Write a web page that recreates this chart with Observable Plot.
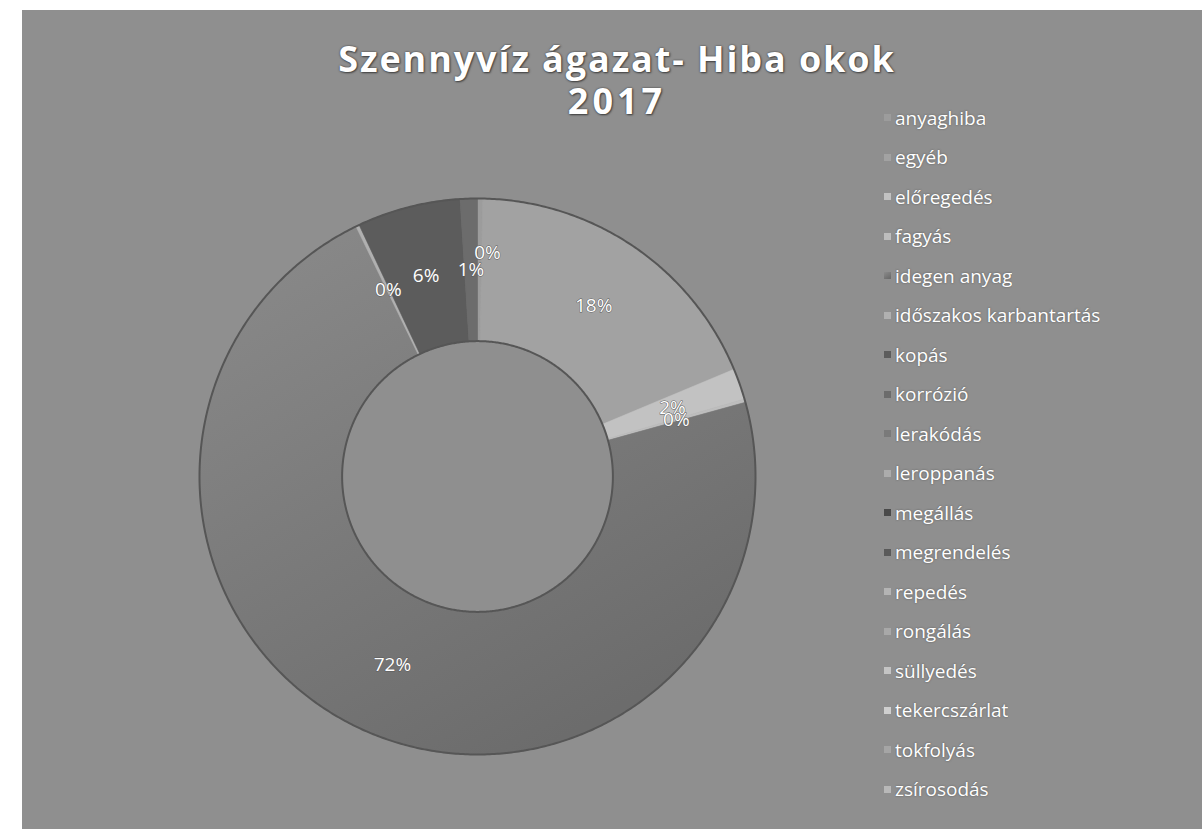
<!DOCTYPE html>
<html>
<head>
<meta charset="utf-8">
<script src="https://cdn.jsdelivr.net/npm/d3@7"></script>
<script src="https://cdn.jsdelivr.net/npm/@observablehq/plot@0.6"></script>
<style>
  html, body { margin: 0; padding: 0; background: #ffffff; }
  #panel { position: absolute; left: 22px; top: 10px; width: 1180px; height: 819px; background: #8f8f8f; overflow: hidden; font-family: "Open Sans", sans-serif; }
  #chart { position: absolute; left: 0; top: 0; }
  #title { position: absolute; left: 0; width: 1190px; top: 28px; text-align: center; color: #ffffff; font-family: "Open Sans", sans-serif; font-weight: 700; font-size: 36px; line-height: 42px; letter-spacing: 1.9px; text-shadow: 0 0 2px #3a3a3a, 1px 1px 2px #444; }
  #title .yr { letter-spacing: 4px; }
  #legend { position: absolute; left: 862px; top: 88px; }
  #legend .lg-swatches { font-family: "Open Sans", sans-serif; font-size: 19px; color: #ffffff; margin: 0; text-shadow: 0 0 2px #555; }
  #legend .lg-swatch { height: 39.5px; padding: 0; display: flex; align-items: center; }
  #legend .lg-swatch > svg { margin-right: 4px; }
</style>
</head>
<body>
<svg width="0" height="0" style="position:absolute">
  <defs>
    <linearGradient id="bigGrad" x1="0" y1="0" x2="0.6" y2="1">
      <stop offset="0" stop-color="#8b8b8b"/>
      <stop offset="1" stop-color="#6c6c6c"/>
    </linearGradient>
  </defs>
</svg>
<div id="panel">
  <div id="chart"></div>
  <div id="title">Szennyvíz ágazat- Hiba okok<br><span class="yr">2017</span></div>
  <div id="legend"></div>
</div>
<script>
// ---- data ----
const categories = ["anyaghiba", "egyéb", "előregedés", "fagyás", "idegen anyag", "időszakos karbantartás", "kopás", "korrózió", "lerakódás", "leroppanás", "megállás", "megrendelés", "repedés", "rongálás", "süllyedés", "tekercszárlat", "tokfolyás", "zsírosodás"];
const shares = [0.3, 18.4, 1.8, 0.2, 72.1, 0.2, 6.0, 1.0, null, null, null, null, null, null, null, null, null, null];
const colors = ["#9c9c9c", "#a2a2a2", "#c2c2c2", "#bdbdbd", "url(#bigGrad)", "#b0b0b0", "#5c5c5c", "#6c6c6c", "#7a7a7a", "#acacac", "#4a4a4a", "#5a5a5a", "#b4b4b4", "#a8a8a8", "#c4c4c4", "#cfcfcf", "#a5a5a5", "#b8b8b8"];

const innerRatio = 0.487;

const rows = categories.map((name, i) => ({name, share: shares[i]})).filter(d => d.share != null);
const arcs = d3.pie().sort(null).value(d => d.share)(rows);

const pt = (a, r) => ({x: r * Math.sin(a), y: r * Math.cos(a)});
const step = Math.PI / 360;

const slicePts = [];
for (const a of arcs) {
  const n = Math.max(2, Math.ceil((a.endAngle - a.startAngle) / step));
  for (let k = 0; k <= n; k++) {
    const t = a.startAngle + (a.endAngle - a.startAngle) * k / n;
    slicePts.push({name: a.data.name, ...pt(t, 1)});
  }
  for (let k = n; k >= 0; k--) {
    const t = a.startAngle + (a.endAngle - a.startAngle) * k / n;
    slicePts.push({name: a.data.name, ...pt(t, innerRatio)});
  }
  slicePts.push({name: a.data.name, ...pt(a.startAngle, 1)});
}

const ringPts = [];
for (const [ring, r] of [["outer", 1], ["inner", innerRatio]]) {
  for (let k = 0; k <= 720; k++) ringPts.push({ring, ...pt(k * step, r)});
}

const fmt = d3.format(".0f");
const labels = arcs.map(a => ({
  name: a.data.name,
  text: fmt(a.data.share) + "%",
  ...pt((a.startAngle + a.endAngle) / 2, (1 + innerRatio) / 2)
}));

const colorScale = {type: "ordinal", domain: categories, range: colors};
const labelStyle = {fill: "#ffffff", stroke: "#5a5a5a", strokeWidth: 1, paintOrder: "stroke", fontSize: 19, fontFamily: "Open Sans, sans-serif"};

const chart = Plot.plot({
  width: 1180,
  height: 819,
  marginLeft: 177,
  marginRight: 447,
  marginTop: 188,
  marginBottom: 75,
  x: {domain: [-1, 1], axis: null},
  y: {domain: [-1, 1], axis: null},
  color: colorScale,
  style: {background: "transparent", overflow: "visible"},
  marks: [
    Plot.line(slicePts, {x: "x", y: "y", z: "name", fill: "name", stroke: "name", strokeWidth: 0.6, curve: "linear"}),
    Plot.line(ringPts, {x: "x", y: "y", z: "ring", stroke: "#565656", strokeWidth: 2, curve: "linear"}),
    Plot.text(labels.filter(d => d.name !== "anyaghiba"), {x: "x", y: "y", text: "text", ...labelStyle}),
    Plot.text(labels.filter(d => d.name === "anyaghiba"), {x: "x", y: "y", text: "text", dx: 8, dy: -17, ...labelStyle})
  ]
});
document.getElementById("chart").appendChild(chart);

const legend = Plot.legend({color: colorScale, legend: "swatches", swatchSize: 7, columns: 1, className: "lg"});
document.getElementById("legend").appendChild(legend);
</script>
</body>
</html>
